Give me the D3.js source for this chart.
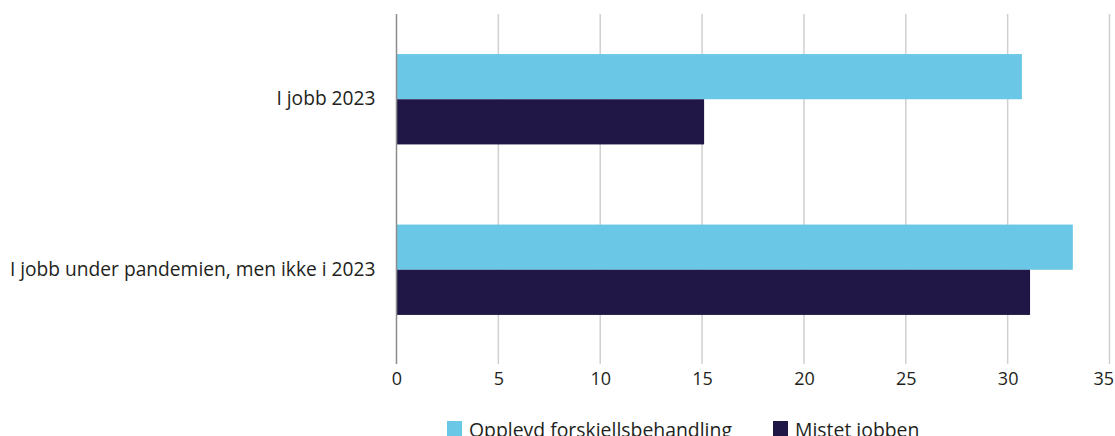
<!DOCTYPE html>
<html>
<head>
<meta charset="utf-8">
<script src="https://cdn.jsdelivr.net/npm/d3@7"></script>
<style>
    body { margin: 0; background: #fff; }
    svg { display: block; font-family: "Open Sans", sans-serif; }
    .tick text { fill: #231f20; }
</style>
</head>
<body>
<div id="chart"></div>
<script>
// data
var categories = ['I jobb 2023', 'I jobb under pandemien, men ikke i 2023'];
var series_names = ['Opplevd forskjellsbehandling', 'Mistet jobben'];
var forskjell_values = [30.7, 33.2];
var mistet_values = [15.1, 31.1];
var x_ticks = [0, 5, 10, 15, 20, 25, 30, 35];
var colors = ['#6ac7e6', '#201747'];

var width = 1115, height = 436;
var plot_left = 396.5, plot_right = 1109.5, plot_top = 14, plot_bottom = 355, grid_bottom = 364;

var svg = d3.select('#chart').append('svg').attr('width', width).attr('height', height);

var x_scale = d3.scaleLinear().domain([0, 35]).range([plot_left, plot_right]);
var y_scale = d3.scaleBand().domain(categories).range([plot_top, plot_bottom]).paddingInner(0.47).paddingOuter(0.235);
var y_sub = d3.scaleBand().domain(series_names).range([0, y_scale.bandwidth()]);

// gridlines
svg.append('g').selectAll('line').data(x_ticks.slice(1)).join('line')
    .attr('x1', d => x_scale(d)).attr('x2', d => x_scale(d))
    .attr('y1', plot_top).attr('y2', grid_bottom)
    .attr('stroke', '#d0d0d0').attr('stroke-width', 1.5);

// bars
var rows = categories.map((c, i) => ({ cat: c, vals: [forskjell_values[i], mistet_values[i]] }));
var groups = svg.append('g').selectAll('g').data(rows).join('g')
    .attr('transform', d => 'translate(0,' + y_scale(d.cat) + ')');
groups.selectAll('rect').data(d => d.vals.map((v, j) => ({ key: series_names[j], v: v, j: j }))).join('rect')
    .attr('x', x_scale(0))
    .attr('y', d => y_sub(d.key))
    .attr('width', d => x_scale(d.v) - x_scale(0))
    .attr('height', y_sub.bandwidth())
    .attr('fill', d => colors[d.j]);

// zero line
svg.append('line').attr('x1', x_scale(0)).attr('x2', x_scale(0))
    .attr('y1', plot_top).attr('y2', grid_bottom)
    .attr('stroke', '#8c8c8c').attr('stroke-width', 1.5);

// x axis labels
var x_axis = svg.append('g').attr('transform', 'translate(0,' + grid_bottom + ')')
    .call(d3.axisBottom(x_scale).tickValues(x_ticks).tickSize(0).tickPadding(8));
x_axis.select('.domain').remove();
x_axis.selectAll('text').attr('font-size', 18).attr('font-family', '"Open Sans", sans-serif');
// last label is pulled in so it fits
x_axis.selectAll('.tick').filter(d => d === 35).select('text').attr('text-anchor', 'end').attr('x', 4);

// y labels
var y_axis = svg.append('g').attr('transform', 'translate(' + (plot_left - 21) + ',0)')
    .call(d3.axisLeft(y_scale).tickSize(0).tickPadding(0));
y_axis.select('.domain').remove();
y_axis.selectAll('text').attr('font-size', 19.2).attr('font-family', '"Open Sans", sans-serif');

// legend
var legend_x = [447, 773];
var legend = svg.append('g').selectAll('g').data(series_names).join('g')
    .attr('transform', (d, i) => 'translate(' + legend_x[i] + ',421)');
legend.append('rect').attr('width', 15).attr('height', 15).attr('fill', (d, i) => colors[i]);
legend.append('text').attr('x', 22).attr('y', 16).text(d => d)
    .attr('font-size', 19.4).attr('fill', '#231f20');
</script>
</body>
</html>
